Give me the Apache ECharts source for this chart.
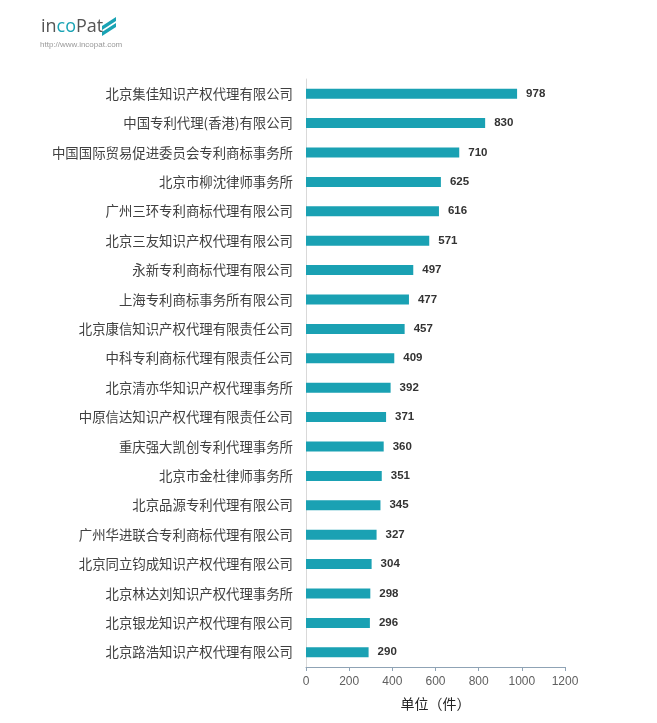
<!DOCTYPE html>
<html><head><meta charset="utf-8">
<script src="https://cdn.jsdelivr.net/npm/echarts@6/dist/echarts.min.js"></script>
<style>html,body{margin:0;padding:0;background:#fff}#c{width:657px;height:723px}</style>
</head><body><div id="c"></div>
<script>
const categories = ["北京集佳知识产权代理有限公司","中国专利代理(香港)有限公司","中国国际贸易促进委员会专利商标事务所","北京市柳沈律师事务所","广州三环专利商标代理有限公司","北京三友知识产权代理有限公司","永新专利商标代理有限公司","上海专利商标事务所有限公司","北京康信知识产权代理有限责任公司","中科专利商标代理有限责任公司","北京清亦华知识产权代理事务所","中原信达知识产权代理有限责任公司","重庆强大凯创专利代理事务所","北京市金杜律师事务所","北京品源专利代理有限公司","广州华进联合专利商标代理有限公司","北京同立钧成知识产权代理有限公司","北京林达刘知识产权代理事务所","北京银龙知识产权代理有限公司","北京路浩知识产权代理有限公司"];
const values = [978,830,710,625,616,571,497,477,457,409,392,371,360,351,345,327,304,298,296,290];
const xTicks = [0,200,400,600,800,1000,1200];

const chart = echarts.init(document.getElementById('c'));
chart.setOption({
  animation:false,
  backgroundColor:'#fff',
  grid:{left:306,right:92,top:79,bottom:56,containLabel:false},
  graphic:[
    {type:'text',left:41,top:18,style:{rich:{a:{fill:'#555',fontSize:18,fontFamily:'Open Sans'},b:{fill:'#19a3b4',fontSize:18,fontFamily:'Open Sans'}},text:'{a|in}{b|co}{a|Pat}'}},
    {type:'polygon',shape:{points:[[102,26],[116,17],[116,21],[102,30]]},style:{fill:'#19a3b4'}},
    {type:'polygon',shape:{points:[[102,32],[116,23],[116,27],[102,36]]},style:{fill:'#19a3b4'}},
    {type:'text',left:40,top:41,style:{text:'http://www.incopat.com',fill:'#999',fontSize:8,fontFamily:'Liberation Sans'}}
  ],
  xAxis:{type:'value',min:0,max:1200,interval:200,
    name:'单位（件）',nameLocation:'middle',nameGap:30,
    nameTextStyle:{color:'#222',fontSize:14,fontFamily:'Noto Sans CJK SC'},
    axisLine:{show:true,lineStyle:{color:'#8fa3b5',width:1}},
    axisTick:{show:true,length:4,lineStyle:{color:'#8fa3b5'}},
    axisLabel:{color:'#5f5f5f',fontSize:12,margin:9,fontFamily:'Liberation Sans',formatter:v=>xTicks.includes(v)?String(v):''},
    splitLine:{show:false}},
  yAxis:{type:'category',data:categories,inverse:true,
    axisLine:{show:true,lineStyle:{color:'#d9d9d9'}},
    axisTick:{show:false},
    axisLabel:{color:'#404040',fontSize:13.4,margin:13,fontFamily:'Noto Sans CJK SC'}},
  series:[{type:'bar',data:values,barWidth:10,itemStyle:{color:'#1aa1b3'},
    label:{show:true,position:'right',distance:9,color:'#333',fontWeight:'bold',fontSize:11.5,fontFamily:'Liberation Sans'}}]
});
</script></body></html>
